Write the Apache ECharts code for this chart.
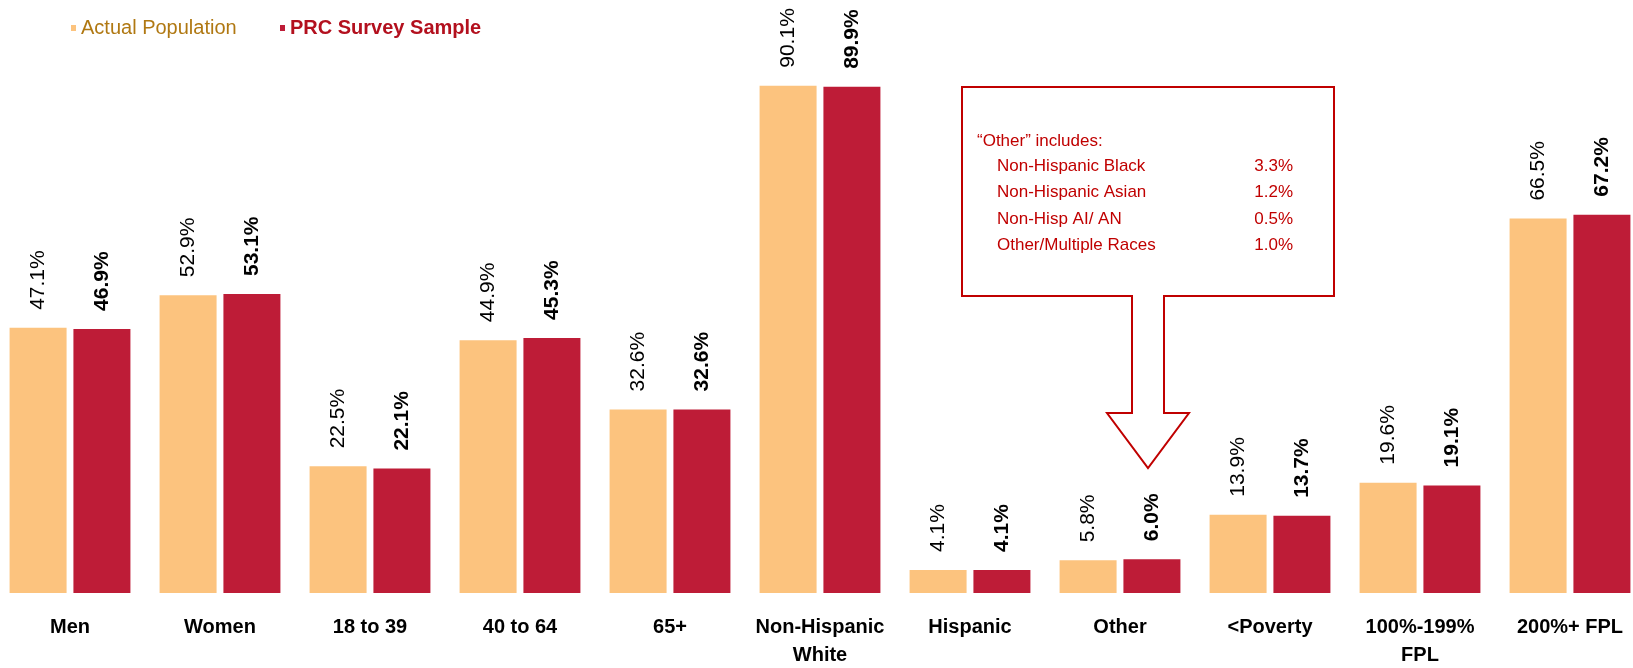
<!DOCTYPE html>
<html>
<head>
<meta charset="utf-8">
<script src="https://cdn.jsdelivr.net/npm/echarts@6/dist/echarts.min.js"></script>
<style>
  html, body { margin: 0; padding: 0; background: #fff; }
  #chart { width: 1633px; height: 668px; }
</style>
</head>
<body>
<div id="chart"></div>
<script>
const categories = ['Men', 'Women', '18 to 39', '40 to 64', '65+', 'Non-Hispanic\nWhite', 'Hispanic', 'Other', '<Poverty', '100%-199%\nFPL', '200%+ FPL']
const actualPopulation = [47.1, 52.9, 22.5, 44.9, 32.6, 90.1, 4.1, 5.8, 13.9, 19.6, 66.5]
const surveySample = [46.9, 53.1, 22.1, 45.3, 32.6, 89.9, 4.1, 6.0, 13.7, 19.1, 67.2]

const otherTitle = '\u201COther\u201D includes:'
const otherGroups = ['Non-Hispanic Black', 'Non-Hispanic Asian', 'Non-Hisp AI/ AN', 'Other/Multiple Races']
const otherValues = ['3.3%', '1.2%', '0.5%', '1.0%']

const FONT = '"Liberation Sans", Arial, sans-serif'
const ORANGE = '#FCC37E'
const RED = '#BE1C37'
const NOTE_RED = '#C00000'

const chart = echarts.init(document.getElementById('chart'))

// callout box with arrow pointing at "Other"
const notes = [
  {
    type: 'polygon',
    z: 10,
    shape: {
      points: [[962, 87], [1334, 87], [1334, 296], [1164, 296], [1164, 413], [1189, 413],
        [1148, 468], [1107, 413], [1132, 413], [1132, 296], [962, 296]]
    },
    style: { fill: '#fff', stroke: NOTE_RED, lineWidth: 2 }
  },
  {
    type: 'text', z: 11, x: 977, y: 141,
    style: { text: otherTitle, font: '17px ' + FONT, fill: NOTE_RED, verticalAlign: 'middle' }
  }
]
otherGroups.forEach((g, i) => {
  notes.push({
    type: 'text', z: 11, x: 997, y: 166 + i * 26.5,
    style: { text: g, font: '17px ' + FONT, fill: NOTE_RED, verticalAlign: 'middle' }
  })
  notes.push({
    type: 'text', z: 11, x: 1293, y: 166 + i * 26.5,
    style: { text: otherValues[i], font: '17px ' + FONT, fill: NOTE_RED, align: 'right', verticalAlign: 'middle' }
  })
})

const barLabel = (bold) => ({
  show: true,
  position: 'top',
  distance: 18,
  rotate: 90,
  align: 'left',
  verticalAlign: 'middle',
  fontFamily: FONT,
  fontSize: 21,
  fontWeight: bold ? 'bold' : 'normal',
  color: '#000',
  formatter: (p) => p.value.toFixed(1) + '%'
})

chart.setOption({
  animation: false,
  textStyle: { fontFamily: FONT },
  legend: [
    {
      left: 66, top: 13,
      icon: 'rect', itemWidth: 5, itemHeight: 6,
      data: [{ name: 'Actual Population', textStyle: { color: '#B07812', fontSize: 20 } }]
    },
    {
      left: 275, top: 13,
      icon: 'rect', itemWidth: 5, itemHeight: 6,
      data: [{ name: 'PRC Survey Sample', textStyle: { color: '#B3101E', fontSize: 20, fontWeight: 'bold' } }]
    }
  ],
  grid: { left: -5, right: -12, top: 30, bottom: 75, outerBoundsMode: 'none' },
  xAxis: {
    type: 'category',
    data: categories,
    axisLine: { show: false },
    axisTick: { show: false },
    axisLabel: {
      interval: 0,
      margin: 20,
      fontFamily: FONT,
      fontSize: 20,
      fontWeight: 'bold',
      lineHeight: 28,
      color: '#000'
    }
  },
  yAxis: {
    type: 'value',
    min: 0,
    max: 100,
    show: false
  },
  series: [
    {
      name: 'Actual Population',
      type: 'bar',
      data: actualPopulation,
      barWidth: 57,
      barGap: '12%',
      itemStyle: { color: ORANGE },
      label: barLabel(false)
    },
    {
      name: 'PRC Survey Sample',
      type: 'bar',
      data: surveySample,
      barWidth: 57,
      barGap: '12%',
      itemStyle: { color: RED },
      label: barLabel(true)
    }
  ],
  graphic: notes
})
</script>
</body>
</html>
